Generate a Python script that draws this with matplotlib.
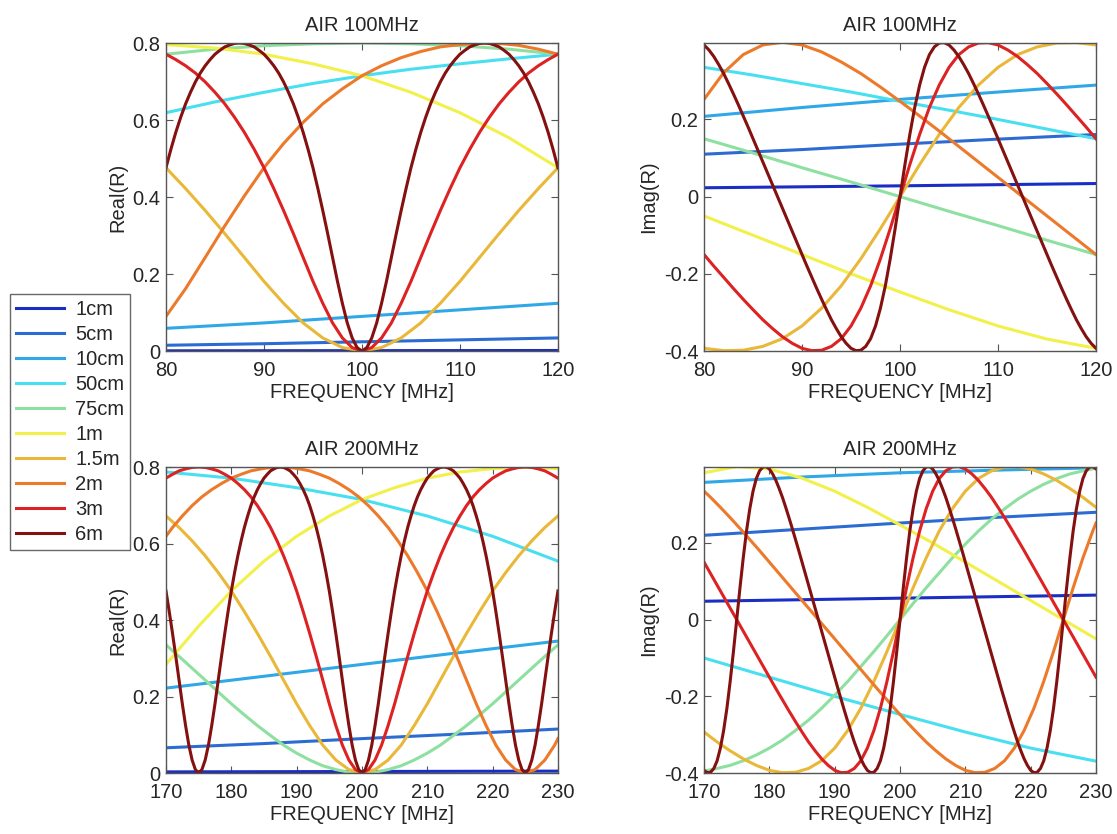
import matplotlib
matplotlib.use("Agg")
import matplotlib.pyplot as plt

plt.rcParams['font.family'] = ['Liberation Sans', 'DejaVu Sans']

labels = ['1cm', '5cm', '10cm', '50cm', '75cm', '1m', '1.5m', '2m', '3m', '6m']
colors = ['#1a2ec4', '#2c6cd2', '#30a8e8', '#48e0f0', '#8ee0a0',
          '#f2f04a', '#eab838', '#ec7a2a', '#dc2222', '#841010']

# ---- 100 MHz band: frequency grids [MHz]
f100_a = [80, 100, 120]
f100_b = [80, 90, 100, 110, 120]
f100_c = list(range(80, 121, 5))
f100_d = list(range(80, 121, 2))
f100_e = list(range(80, 121, 1))
f100_h = [80 + 0.5 * i for i in range(81)]

re100_1cm = [0.0006, 0.0010, 0.0014]
im100_1cm = [0.023, 0.028, 0.034]
re100_5cm = [0.015, 0.019, 0.024, 0.029, 0.034]
im100_5cm = [0.110, 0.122, 0.136, 0.149, 0.161]
re100_10cm = [0.059, 0.073, 0.090, 0.107, 0.124]
im100_10cm = [0.208, 0.231, 0.252, 0.271, 0.289]
re100_50cm = [0.619, 0.647, 0.672, 0.695, 0.715, 0.732, 0.746, 0.759, 0.771]
im100_50cm = [0.335, 0.315, 0.293, 0.271, 0.247, 0.224, 0.200, 0.175, 0.150]
re100_75cm = [0.771, 0.784, 0.793, 0.798, 0.800, 0.798, 0.793, 0.784, 0.771]
im100_75cm = [0.150, 0.113, 0.075, 0.038, 0.000, -0.038, -0.075, -0.113, -0.150]
re100_1m = [0.796, 0.787, 0.771, 0.746, 0.715, 0.672, 0.619, 0.554, 0.476]
im100_1m = [-0.050, -0.100, -0.150, -0.200, -0.247, -0.293, -0.335, -0.369, -0.393]
re100_15m = [0.476, 0.422, 0.365, 0.305, 0.243, 0.181, 0.124, 0.073, 0.034, 0.009, 0.000,
             0.009, 0.034, 0.073, 0.124, 0.181, 0.243, 0.305, 0.365, 0.422, 0.476]
im100_15m = [-0.393, -0.399, -0.398, -0.388, -0.368, -0.335, -0.289, -0.231, -0.161, -0.083, 0.000,
             0.083, 0.161, 0.231, 0.289, 0.335, 0.368, 0.388, 0.398, 0.399, 0.393]
re100_2m = [0.090, 0.162, 0.243, 0.325, 0.403, 0.476, 0.539, 0.594, 0.642, 0.681, 0.715,
            0.741, 0.762, 0.778, 0.790, 0.796, 0.800, 0.799, 0.794, 0.784, 0.771]
im100_2m = [0.252, 0.321, 0.368, 0.393, 0.400, 0.393, 0.375, 0.349, 0.319, 0.284, 0.247,
            0.209, 0.170, 0.130, 0.090, 0.050, 0.010, -0.030, -0.070, -0.110, -0.150]
re100_3m = [0.771, 0.757, 0.741, 0.722, 0.699, 0.672, 0.642, 0.607, 0.568, 0.524,
            0.476, 0.422, 0.365, 0.305, 0.243, 0.181, 0.124, 0.073, 0.034, 0.009,
            0.000,
            0.009, 0.034, 0.073, 0.124, 0.181, 0.243, 0.305, 0.365, 0.422, 0.476,
            0.524, 0.568, 0.607, 0.642, 0.672, 0.699, 0.722, 0.741, 0.757, 0.771]
im100_3m = [-0.150, -0.180, -0.209, -0.238, -0.266, -0.293, -0.319, -0.342, -0.363, -0.380,
            -0.393, -0.399, -0.398, -0.388, -0.368, -0.335, -0.289, -0.231, -0.161, -0.083,
            0.000,
            0.083, 0.161, 0.231, 0.289, 0.335, 0.368, 0.388, 0.398, 0.399, 0.393,
            0.380, 0.363, 0.342, 0.319, 0.293, 0.266, 0.238, 0.209, 0.180, 0.150]
re100_6m = [0.476, 0.524, 0.568, 0.607, 0.642, 0.672, 0.699, 0.722, 0.741, 0.757,
            0.771, 0.781, 0.790, 0.795, 0.799, 0.800, 0.799, 0.795, 0.790, 0.781,
            0.771, 0.757, 0.741, 0.722, 0.699, 0.672, 0.642, 0.607, 0.568, 0.524,
            0.476, 0.422, 0.365, 0.305, 0.243, 0.181, 0.124, 0.073, 0.034, 0.009,
            0.000, 0.009, 0.034, 0.073, 0.124, 0.181, 0.243, 0.305, 0.365, 0.422,
            0.476, 0.524, 0.568, 0.607, 0.642, 0.672, 0.699, 0.722, 0.741, 0.757,
            0.771, 0.781, 0.790, 0.795, 0.799, 0.800, 0.799, 0.795, 0.790, 0.781,
            0.771, 0.757, 0.741, 0.722, 0.699, 0.672, 0.642, 0.607, 0.568, 0.524,
            0.476]
im100_6m = [0.393, 0.380, 0.363, 0.342, 0.319, 0.293, 0.266, 0.238, 0.209, 0.180,
            0.150, 0.120, 0.090, 0.060, 0.030, 0.000, -0.030, -0.060, -0.090, -0.120,
            -0.150, -0.180, -0.209, -0.238, -0.266, -0.293, -0.319, -0.342, -0.363, -0.380,
            -0.393, -0.399, -0.398, -0.388, -0.368, -0.335, -0.289, -0.231, -0.161, -0.083,
            0.000, 0.083, 0.161, 0.231, 0.289, 0.335, 0.368, 0.388, 0.398, 0.399,
            0.393, 0.380, 0.363, 0.342, 0.319, 0.293, 0.266, 0.238, 0.209, 0.180,
            0.150, 0.120, 0.090, 0.060, 0.030, 0.000, -0.030, -0.060, -0.090, -0.120,
            -0.150, -0.180, -0.209, -0.238, -0.266, -0.293, -0.319, -0.342, -0.363, -0.380,
            -0.393]

# ---- 200 MHz band
f200_a = [170, 200, 230]
f200_b = [170, 185, 200, 215, 230]
f200_c = list(range(170, 231, 10))
f200_d = list(range(170, 231, 5))
f200_e = list(range(170, 231, 2))
f200_f = [170] + [171 + 1.5 * i for i in range(40)] + [230]
f200_g = list(range(170, 231, 1))
f200_h = [170 + 0.5 * i for i in range(121)]

re200_1cm = [0.003, 0.004, 0.005]
im200_1cm = [0.048, 0.056, 0.064]
re200_5cm = [0.066, 0.077, 0.090, 0.102, 0.115]
im200_5cm = [0.220, 0.236, 0.252, 0.267, 0.280]
re200_10cm = [0.222, 0.253, 0.284, 0.315, 0.345]
im200_10cm = [0.358, 0.372, 0.383, 0.390, 0.396]
re200_50cm = [0.787, 0.771, 0.746, 0.715, 0.672, 0.619, 0.554]
im200_50cm = [-0.100, -0.150, -0.200, -0.247, -0.293, -0.335, -0.369]
re200_75cm = [0.335, 0.305, 0.274, 0.243, 0.212, 0.181, 0.152, 0.124, 0.098, 0.073, 0.052,
              0.034, 0.019, 0.009, 0.002, 0.000, 0.002, 0.009, 0.019, 0.034, 0.052,
              0.073, 0.098, 0.124, 0.152, 0.181, 0.212, 0.243, 0.274, 0.305, 0.335]
im200_75cm = [-0.395, -0.388, -0.380, -0.368, -0.353, -0.335, -0.314, -0.289, -0.262, -0.231, -0.197,
              -0.161, -0.122, -0.083, -0.042, 0.000, 0.042, 0.083, 0.122, 0.161, 0.197,
              0.231, 0.262, 0.289, 0.314, 0.335, 0.353, 0.368, 0.380, 0.388, 0.395]
re200_1m = [0.284, 0.384, 0.476, 0.554, 0.619, 0.672, 0.715, 0.746, 0.771, 0.787, 0.796, 0.800, 0.796]
im200_1m = [0.383, 0.399, 0.393, 0.369, 0.335, 0.293, 0.247, 0.200, 0.150, 0.100, 0.050, 0.000, -0.050]
re200_15m = [0.672, 0.642, 0.607, 0.568, 0.524, 0.476, 0.422, 0.365, 0.305, 0.243, 0.181, 0.124, 0.073, 0.034, 0.009,
             0.000,
             0.009, 0.034, 0.073, 0.124, 0.181, 0.243, 0.305, 0.365, 0.422, 0.476, 0.524, 0.568, 0.607, 0.642, 0.672]
im200_15m = [-0.293, -0.319, -0.342, -0.363, -0.380, -0.393, -0.399, -0.398, -0.388, -0.368, -0.335, -0.289, -0.231, -0.161, -0.083,
             0.000,
             0.083, 0.161, 0.231, 0.289, 0.335, 0.368, 0.388, 0.398, 0.399, 0.393, 0.380, 0.363, 0.342, 0.319, 0.293]
re200_2m = [0.619,
            0.642, 0.672, 0.699, 0.722, 0.741, 0.757, 0.771, 0.781, 0.790, 0.795,
            0.799, 0.800, 0.799, 0.795, 0.790, 0.781, 0.771, 0.757, 0.741, 0.722,
            0.699, 0.672, 0.642, 0.607, 0.568, 0.524, 0.476, 0.422, 0.365, 0.305,
            0.243, 0.181, 0.124, 0.073, 0.034, 0.009, 0.000, 0.009, 0.034, 0.073,
            0.090]
im200_2m = [0.335,
            0.319, 0.293, 0.266, 0.238, 0.209, 0.180, 0.150, 0.120, 0.090, 0.060,
            0.030, 0.000, -0.030, -0.060, -0.090, -0.120, -0.150, -0.180, -0.209, -0.238,
            -0.266, -0.293, -0.319, -0.342, -0.363, -0.380, -0.393, -0.399, -0.398, -0.388,
            -0.368, -0.335, -0.289, -0.231, -0.161, -0.083, 0.000, 0.083, 0.161, 0.231,
            0.252]
re200_3m = [0.771, 0.781, 0.790, 0.795, 0.799, 0.800, 0.799, 0.795, 0.790, 0.781,
            0.771, 0.757, 0.741, 0.722, 0.699, 0.672, 0.642, 0.607, 0.568, 0.524,
            0.476, 0.422, 0.365, 0.305, 0.243, 0.181, 0.124, 0.073, 0.034, 0.009,
            0.000, 0.009, 0.034, 0.073, 0.124, 0.181, 0.243, 0.305, 0.365, 0.422,
            0.476, 0.524, 0.568, 0.607, 0.642, 0.672, 0.699, 0.722, 0.741, 0.757,
            0.771, 0.781, 0.790, 0.795, 0.799, 0.800, 0.799, 0.795, 0.790, 0.781,
            0.771]
im200_3m = [0.150, 0.120, 0.090, 0.060, 0.030, 0.000, -0.030, -0.060, -0.090, -0.120,
            -0.150, -0.180, -0.209, -0.238, -0.266, -0.293, -0.319, -0.342, -0.363, -0.380,
            -0.393, -0.399, -0.398, -0.388, -0.368, -0.335, -0.289, -0.231, -0.161, -0.083,
            0.000, 0.083, 0.161, 0.231, 0.289, 0.335, 0.368, 0.388, 0.398, 0.399,
            0.393, 0.380, 0.363, 0.342, 0.319, 0.293, 0.266, 0.238, 0.209, 0.180,
            0.150, 0.120, 0.090, 0.060, 0.030, 0.000, -0.030, -0.060, -0.090, -0.120,
            -0.150]
re200_6m = [0.476, 0.422, 0.365, 0.305, 0.243, 0.181, 0.124, 0.073, 0.034, 0.009,
            0.000, 0.009, 0.034, 0.073, 0.124, 0.181, 0.243, 0.305, 0.365, 0.422,
            0.476, 0.524, 0.568, 0.607, 0.642, 0.672, 0.699, 0.722, 0.741, 0.757,
            0.771, 0.781, 0.790, 0.795, 0.799, 0.800, 0.799, 0.795, 0.790, 0.781,
            0.771, 0.757, 0.741, 0.722, 0.699, 0.672, 0.642, 0.607, 0.568, 0.524,
            0.476, 0.422, 0.365, 0.305, 0.243, 0.181, 0.124, 0.073, 0.034, 0.009,
            0.000, 0.009, 0.034, 0.073, 0.124, 0.181, 0.243, 0.305, 0.365, 0.422,
            0.476, 0.524, 0.568, 0.607, 0.642, 0.672, 0.699, 0.722, 0.741, 0.757,
            0.771, 0.781, 0.790, 0.795, 0.799, 0.800, 0.799, 0.795, 0.790, 0.781,
            0.771, 0.757, 0.741, 0.722, 0.699, 0.672, 0.642, 0.607, 0.568, 0.524,
            0.476, 0.422, 0.365, 0.305, 0.243, 0.181, 0.124, 0.073, 0.034, 0.009,
            0.000, 0.009, 0.034, 0.073, 0.124, 0.181, 0.243, 0.305, 0.365, 0.422,
            0.476]
im200_6m = [-0.393, -0.399, -0.398, -0.388, -0.368, -0.335, -0.289, -0.231, -0.161, -0.083,
            0.000, 0.083, 0.161, 0.231, 0.289, 0.335, 0.368, 0.388, 0.398, 0.399,
            0.393, 0.380, 0.363, 0.342, 0.319, 0.293, 0.266, 0.238, 0.209, 0.180,
            0.150, 0.120, 0.090, 0.060, 0.030, 0.000, -0.030, -0.060, -0.090, -0.120,
            -0.150, -0.180, -0.209, -0.238, -0.266, -0.293, -0.319, -0.342, -0.363, -0.380,
            -0.393, -0.399, -0.398, -0.388, -0.368, -0.335, -0.289, -0.231, -0.161, -0.083,
            0.000, 0.083, 0.161, 0.231, 0.289, 0.335, 0.368, 0.388, 0.398, 0.399,
            0.393, 0.380, 0.363, 0.342, 0.319, 0.293, 0.266, 0.238, 0.209, 0.180,
            0.150, 0.120, 0.090, 0.060, 0.030, 0.000, -0.030, -0.060, -0.090, -0.120,
            -0.150, -0.180, -0.209, -0.238, -0.266, -0.293, -0.319, -0.342, -0.363, -0.380,
            -0.393, -0.399, -0.398, -0.388, -0.368, -0.335, -0.289, -0.231, -0.161, -0.083,
            0.000, 0.083, 0.161, 0.231, 0.289, 0.335, 0.368, 0.388, 0.398, 0.399,
            0.393]

band100 = [
    (f100_a, re100_1cm, im100_1cm), (f100_b, re100_5cm, im100_5cm), (f100_b, re100_10cm, im100_10cm),
    (f100_c, re100_50cm, im100_50cm), (f100_c, re100_75cm, im100_75cm), (f100_c, re100_1m, im100_1m),
    (f100_d, re100_15m, im100_15m), (f100_d, re100_2m, im100_2m), (f100_e, re100_3m, im100_3m),
    (f100_h, re100_6m, im100_6m),
]
band200 = [
    (f200_a, re200_1cm, im200_1cm), (f200_b, re200_5cm, im200_5cm), (f200_b, re200_10cm, im200_10cm),
    (f200_c, re200_50cm, im200_50cm), (f200_e, re200_75cm, im200_75cm), (f200_d, re200_1m, im200_1m),
    (f200_e, re200_15m, im200_15m), (f200_f, re200_2m, im200_2m), (f200_g, re200_3m, im200_3m),
    (f200_h, re200_6m, im200_6m),
]

FS = 14.5
TXT = '#262626'

fig = plt.figure(figsize=(11.17, 8.34), dpi=100)
left_col, right_col, width = 0.1486, 0.6303, 0.3509
positions = {
    (0, 0): [left_col, 0.5791, width, 0.3693],
    (0, 1): [right_col, 0.5791, width, 0.3693],
    (1, 0): [left_col, 0.0731, width, 0.3669],
    (1, 1): [right_col, 0.0731, width, 0.3669],
}

panels = [
    ((0, 0), band100, 1, 'AIR 100MHz', 'Real(R)', (80, 120), range(80, 121, 10)),
    ((0, 1), band100, 2, 'AIR 100MHz', 'Imag(R)', (80, 120), range(80, 121, 10)),
    ((1, 0), band200, 1, 'AIR 200MHz', 'Real(R)', (170, 230), range(170, 231, 10)),
    ((1, 1), band200, 2, 'AIR 200MHz', 'Imag(R)', (170, 230), range(170, 231, 10)),
]

handles = []
for pos, band, k, title, ylab, xlim, xt in panels:
    ax = fig.add_axes(positions[pos])
    lines = []
    for (series, col, lab) in zip(band, colors, labels):
        ln, = ax.plot(series[0], series[k], color=col, lw=2.2, label=lab)
        lines.append(ln)
    if not handles:
        handles = lines
    ax.set_xlim(*xlim)
    ax.set_xticks(list(xt))
    ax.set_xticklabels([str(v) for v in xt])
    if k == 1:
        ax.set_ylim(0, 0.8)
        ax.set_yticks([0, 0.2, 0.4, 0.6, 0.8])
        ax.set_yticklabels(['0', '0.2', '0.4', '0.6', '0.8'])
    else:
        ax.set_ylim(-0.4, 0.398)
        ax.set_yticks([-0.4, -0.2, 0, 0.2])
        ax.set_yticklabels(['-0.4', '-0.2', '0', '0.2'])
    ax.set_title(title, fontsize=FS, color=TXT, pad=9)
    ax.set_xlabel('FREQUENCY [MHz]', fontsize=FS, color=TXT, labelpad=2)
    ax.set_ylabel(ylab, fontsize=FS, color=TXT, labelpad=4)
    ax.tick_params(direction='in', length=5, width=0.8, top=True, right=True,
                   labelsize=FS, colors='#555555', labelcolor=TXT)
    ax.tick_params(axis='x', pad=7)
    ax.tick_params(axis='y', pad=4)
    for sp in ax.spines.values():
        sp.set_color('#555555')
        sp.set_linewidth(1.0)

leg = fig.legend(handles, labels, loc='upper left',
                 bbox_to_anchor=(10 / 1117, 1 - 294 / 834), bbox_transform=fig.transFigure,
                 fontsize=FS, frameon=True, fancybox=False, borderpad=0.28,
                 labelspacing=0.3, handlelength=2.4, handletextpad=0.55, borderaxespad=0)
leg.get_frame().set_edgecolor('#444444')
leg.get_frame().set_linewidth(1.0)
for t in leg.get_texts():
    t.set_color(TXT)

fig.savefig('out.png', dpi=100)
